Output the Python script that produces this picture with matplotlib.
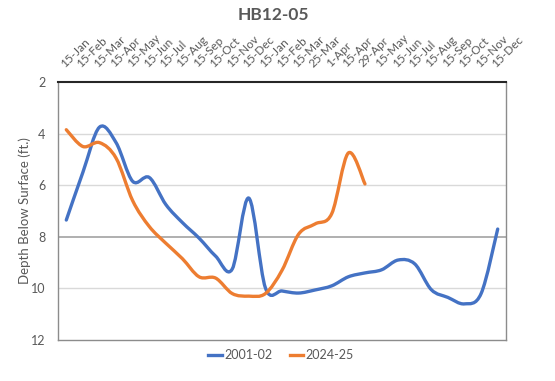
import matplotlib
matplotlib.use("Agg")
import matplotlib.pyplot as plt
from matplotlib.path import Path
from matplotlib.patches import PathPatch
from matplotlib.lines import Line2D
import numpy as np

plt.rcParams['font.family'] = ['Lato', 'DejaVu Sans']

categories = ["15-Jan", "15-Feb", "15-Mar", "15-Apr", "15-May", "15-Jun", "15-Jul",
              "15-Aug", "15-Sep", "15-Oct", "15-Nov", "15-Dec", "15-Jan", "15-Feb",
              "15-Mar", "25-Mar", "1-Apr", "15-Apr", "29-Apr", "15-May", "15-Jun",
              "15-Jul", "15-Aug", "15-Sep", "15-Oct", "15-Nov", "15-Dec"]

depth_2001_02 = [7.35, 5.5, 3.75, 4.35, 5.85, 5.7, 6.75, 7.45, 8.05, 8.75, 9.25, 6.5,
                 9.98, 10.1, 10.18, 10.06, 9.9, 9.55, 9.4, 9.28, 8.9, 9.05, 10.05,
                 10.35, 10.6, 10.2, 7.7]
depth_2024_25 = [3.85, 4.5, 4.35, 4.95, 6.6, 7.6, 8.25, 8.85, 9.55, 9.6, 10.2, 10.3,
                 10.2, 9.3, 7.9, 7.5, 7.1, 4.75, 5.95]

series = [("2001-02", depth_2001_02, "#4472C4"), ("2024-25", depth_2024_25, "#ED7D31")]

fig = plt.figure(figsize=(5.55, 3.81), dpi=100)
ax = fig.add_axes([58/555, 1-340/381, 448/555, 258/381])

def smooth_path(xs, ys):
    xs = np.asarray(xs, float); ys = np.asarray(ys, float)
    n = len(xs)
    verts = [(xs[0], ys[0])]
    codes = [Path.MOVETO]
    for i in range(n - 1):
        p0 = np.array([xs[max(i-1, 0)], ys[max(i-1, 0)]])
        p1 = np.array([xs[i], ys[i]])
        p2 = np.array([xs[i+1], ys[i+1]])
        p3 = np.array([xs[min(i+2, n-1)], ys[min(i+2, n-1)]])
        c1 = p1 + (p2 - p0) / 6.0
        c2 = p2 - (p3 - p1) / 6.0
        verts += [tuple(c1), tuple(c2), tuple(p2)]
        codes += [Path.CURVE4] * 3
    return Path(verts, codes)

handles = []
for name, vals, col in series:
    xs = np.arange(len(vals))
    patch = PathPatch(smooth_path(xs, vals), facecolor='none', edgecolor=col,
                      lw=2.4, capstyle='round', joinstyle='round', zorder=3)
    ax.add_patch(patch)
    handles.append(Line2D([0], [0], color=col, lw=2.4))

ax.set_xlim(-0.5, len(categories) - 0.5)
ax.set_ylim(12, 2)
ax.set_yticks([2, 4, 6, 8, 10, 12])
ax.xaxis.tick_top()
ax.set_xticks(np.arange(len(categories)))
ax.set_xticklabels(categories, rotation=45, ha='left', va='bottom',
                   rotation_mode='anchor', fontsize=8.5, color='#595959')
ax.tick_params(axis='x', length=0, pad=9)
ax.tick_params(axis='y', length=0, pad=9, labelsize=9, labelcolor='#595959')

for v in [4, 6, 10]:
    ax.axhline(v, color='#D9D9D9', lw=1, zorder=1)
ax.axhline(8, color='#AFAFAF', lw=1.4, zorder=1)

for s in ['left', 'right', 'bottom']:
    ax.spines[s].set_color('#8C8C8C')
    ax.spines[s].set_linewidth(1.0)
ax.spines['top'].set_color('#262626')
ax.spines['top'].set_linewidth(1.5)

ax.set_ylabel("Depth Below Surface (ft.)", fontsize=9.5, color='#595959', labelpad=0)
fig.text(273/555, 1-15/381, "HB12-05", ha='center', va='center', fontsize=12.5,
         fontweight='bold', color='#595959')

fig.legend(handles, [s[0] for s in series], loc='center', bbox_to_anchor=(281/555, 1-355/381),
           ncol=2, frameon=False, fontsize=9, handlelength=1.05, columnspacing=1.4,
           handletextpad=0.2, labelcolor='#595959')

fig.savefig("out.png", dpi=100)
